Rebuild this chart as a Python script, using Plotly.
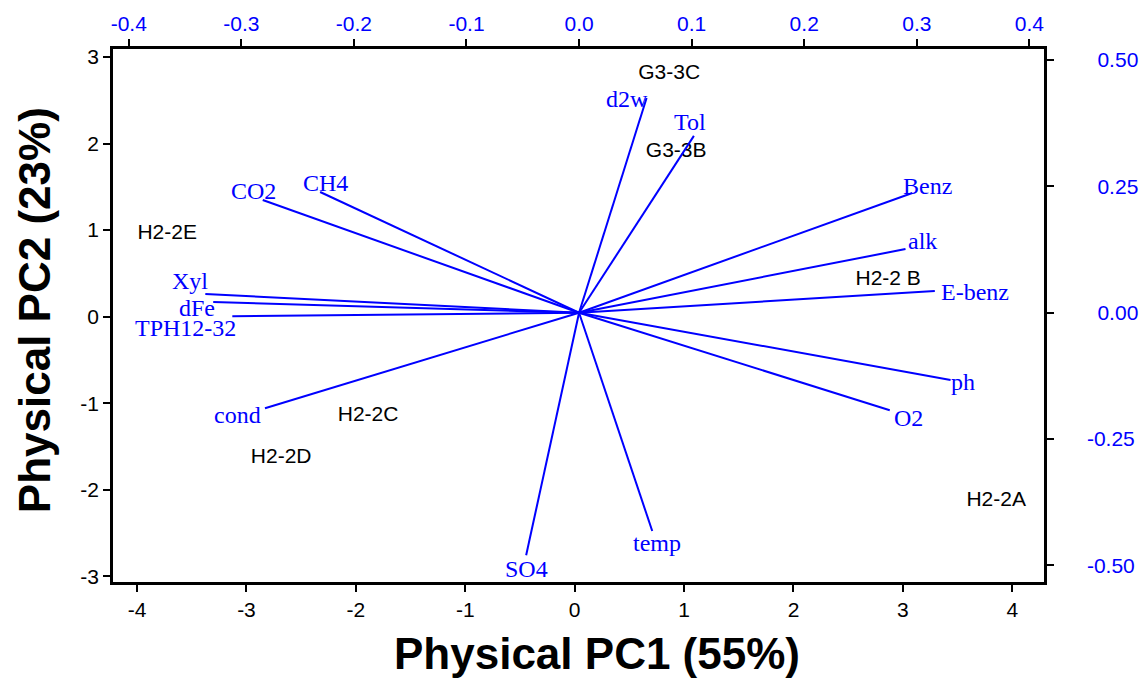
import plotly.graph_objects as go

# Sample scores (bottom / left axes)
samples = ["G3-3C", "G3-3B", "H2-2E", "H2-2 B", "H2-2C", "H2-2D", "H2-2A"]
pc1_scores = [0.864, 0.928, -3.725, 2.866, -1.888, -2.683, 3.853]
pc2_scores = [2.809, 1.908, 0.961, 0.430, -1.147, -1.626, -2.129]

# Variable loadings (top / right axes)
variables = ["CO2", "CH4", "d2w", "Tol", "Benz", "alk", "E-benz", "ph", "O2",
             "temp", "SO4", "cond", "Xyl", "dFe", "TPH12-32"]
pc1_loadings = [-0.281, -0.230, 0.060, 0.102, 0.296, 0.290, 0.316, 0.330, 0.276,
                0.065, -0.047, -0.279, -0.332, -0.325, -0.308]
pc2_loadings = [0.223, 0.239, 0.425, 0.350, 0.237, 0.126, 0.043, -0.133, -0.193,
                -0.432, -0.480, -0.189, 0.037, 0.021, -0.007]

# Tick values
score_x_ticks = [-4, -3, -2, -1, 0, 1, 2, 3, 4]
score_y_ticks = [-3, -2, -1, 0, 1, 2, 3]
load_x_ticks = [-0.4, -0.3, -0.2, -0.1, 0.0, 0.1, 0.2, 0.3, 0.4]
load_y_ticks = [-0.50, -0.25, 0.00, 0.25, 0.50]

# Pixel offsets of each variable label from its arrow tip (dx right, dy down)
label_offsets = {
    "CO2": (-9, -9), "CH4": (5, -9), "d2w": (-20, 1), "Tol": (-4, -14),
    "Benz": (15, -7), "alk": (17, -8), "E-benz": (40, 1), "ph": (12, 2),
    "O2": (19, 8), "temp": (5, 12), "SO4": (0, 14), "cond": (-27, 7),
    "Xyl": (-15, -13), "dFe": (-16, 6), "TPH12-32": (-47, 12),
}

BLUE = "#0000FF"
SANS = "Liberation Sans, Arial, sans-serif"
SERIF = "Liberation Serif, Times New Roman, serif"

fig = go.Figure()

# Loading vectors from the origin
vx, vy = [], []
for lx, ly in zip(pc1_loadings, pc2_loadings):
    vx += [0, lx, None]
    vy += [0, ly, None]
fig.add_trace(go.Scatter(x=vx, y=vy, mode="lines", xaxis="x2", yaxis="y2",
                         line=dict(color=BLUE, width=2), hoverinfo="skip",
                         showlegend=False))

# Sample names at their scores
fig.add_trace(go.Scatter(x=pc1_scores, y=pc2_scores, mode="text", text=samples,
                         textposition="middle center",
                         textfont=dict(family=SANS, size=21, color="black"),
                         showlegend=False))

# Variable names near the arrow tips
for name, lx, ly in zip(variables, pc1_loadings, pc2_loadings):
    dx, dy = label_offsets[name]
    fig.add_annotation(x=lx, y=ly, xref="x2", yref="y2", text=name,
                       showarrow=False, xshift=dx, yshift=-dy,
                       xanchor="center", yanchor="middle",
                       font=dict(family=SERIF, size=24, color=BLUE))

# Axis titles
title_font = dict(family=SANS, size=44, color="black", weight="bold")
fig.add_annotation(text="Physical PC1 (55%)", xref="paper", yref="paper",
                   x=0.52, y=0, yshift=-71, xanchor="center", yanchor="middle",
                   showarrow=False, font=title_font)
fig.add_annotation(text="Physical PC2 (23%)", xref="paper", yref="paper",
                   x=0, y=0.51, xshift=-79, xanchor="center", yanchor="middle",
                   textangle=-90, showarrow=False, font=title_font)


def fmt(v, nd):
    return f"{v:.{nd}f}"


axis_common = dict(showline=True, linewidth=2.5, linecolor="black",
                   ticks="outside", ticklen=7, tickwidth=1.5, tickcolor="black",
                   showgrid=False, zeroline=False, automargin=False)

fig.update_layout(
    width=1141, height=683,
    margin=dict(l=113, r=97, t=49, b=101),
    plot_bgcolor="white", paper_bgcolor="white",
    xaxis=dict(range=[-4.22, 4.29], tickvals=score_x_ticks,
               ticktext=[str(v) for v in score_x_ticks],
               tickfont=dict(family=SANS, size=21, color="black"),
               **axis_common),
    yaxis=dict(range=[-3.065, 3.092], tickvals=score_y_ticks,
               ticktext=[str(v) for v in score_y_ticks],
               tickfont=dict(family=SANS, size=21, color="black"),
               **axis_common),
    xaxis2=dict(range=[-0.414, 0.413], overlaying="x", side="top",
                tickvals=load_x_ticks, ticktext=[fmt(v, 1) for v in load_x_ticks],
                tickfont=dict(family=SANS, size=21, color=BLUE),
                **axis_common),
    yaxis2=dict(range=[-0.533, 0.522], overlaying="y", side="right",
                tickvals=load_y_ticks,
                ticktext=[("" if v < 0 else "\u2002") + fmt(v, 2) for v in load_y_ticks],
                tickfont=dict(family=SANS, size=21, color=BLUE),
                ticklabelstandoff=29,
                **axis_common),
)

fig.write_html("out.html")
